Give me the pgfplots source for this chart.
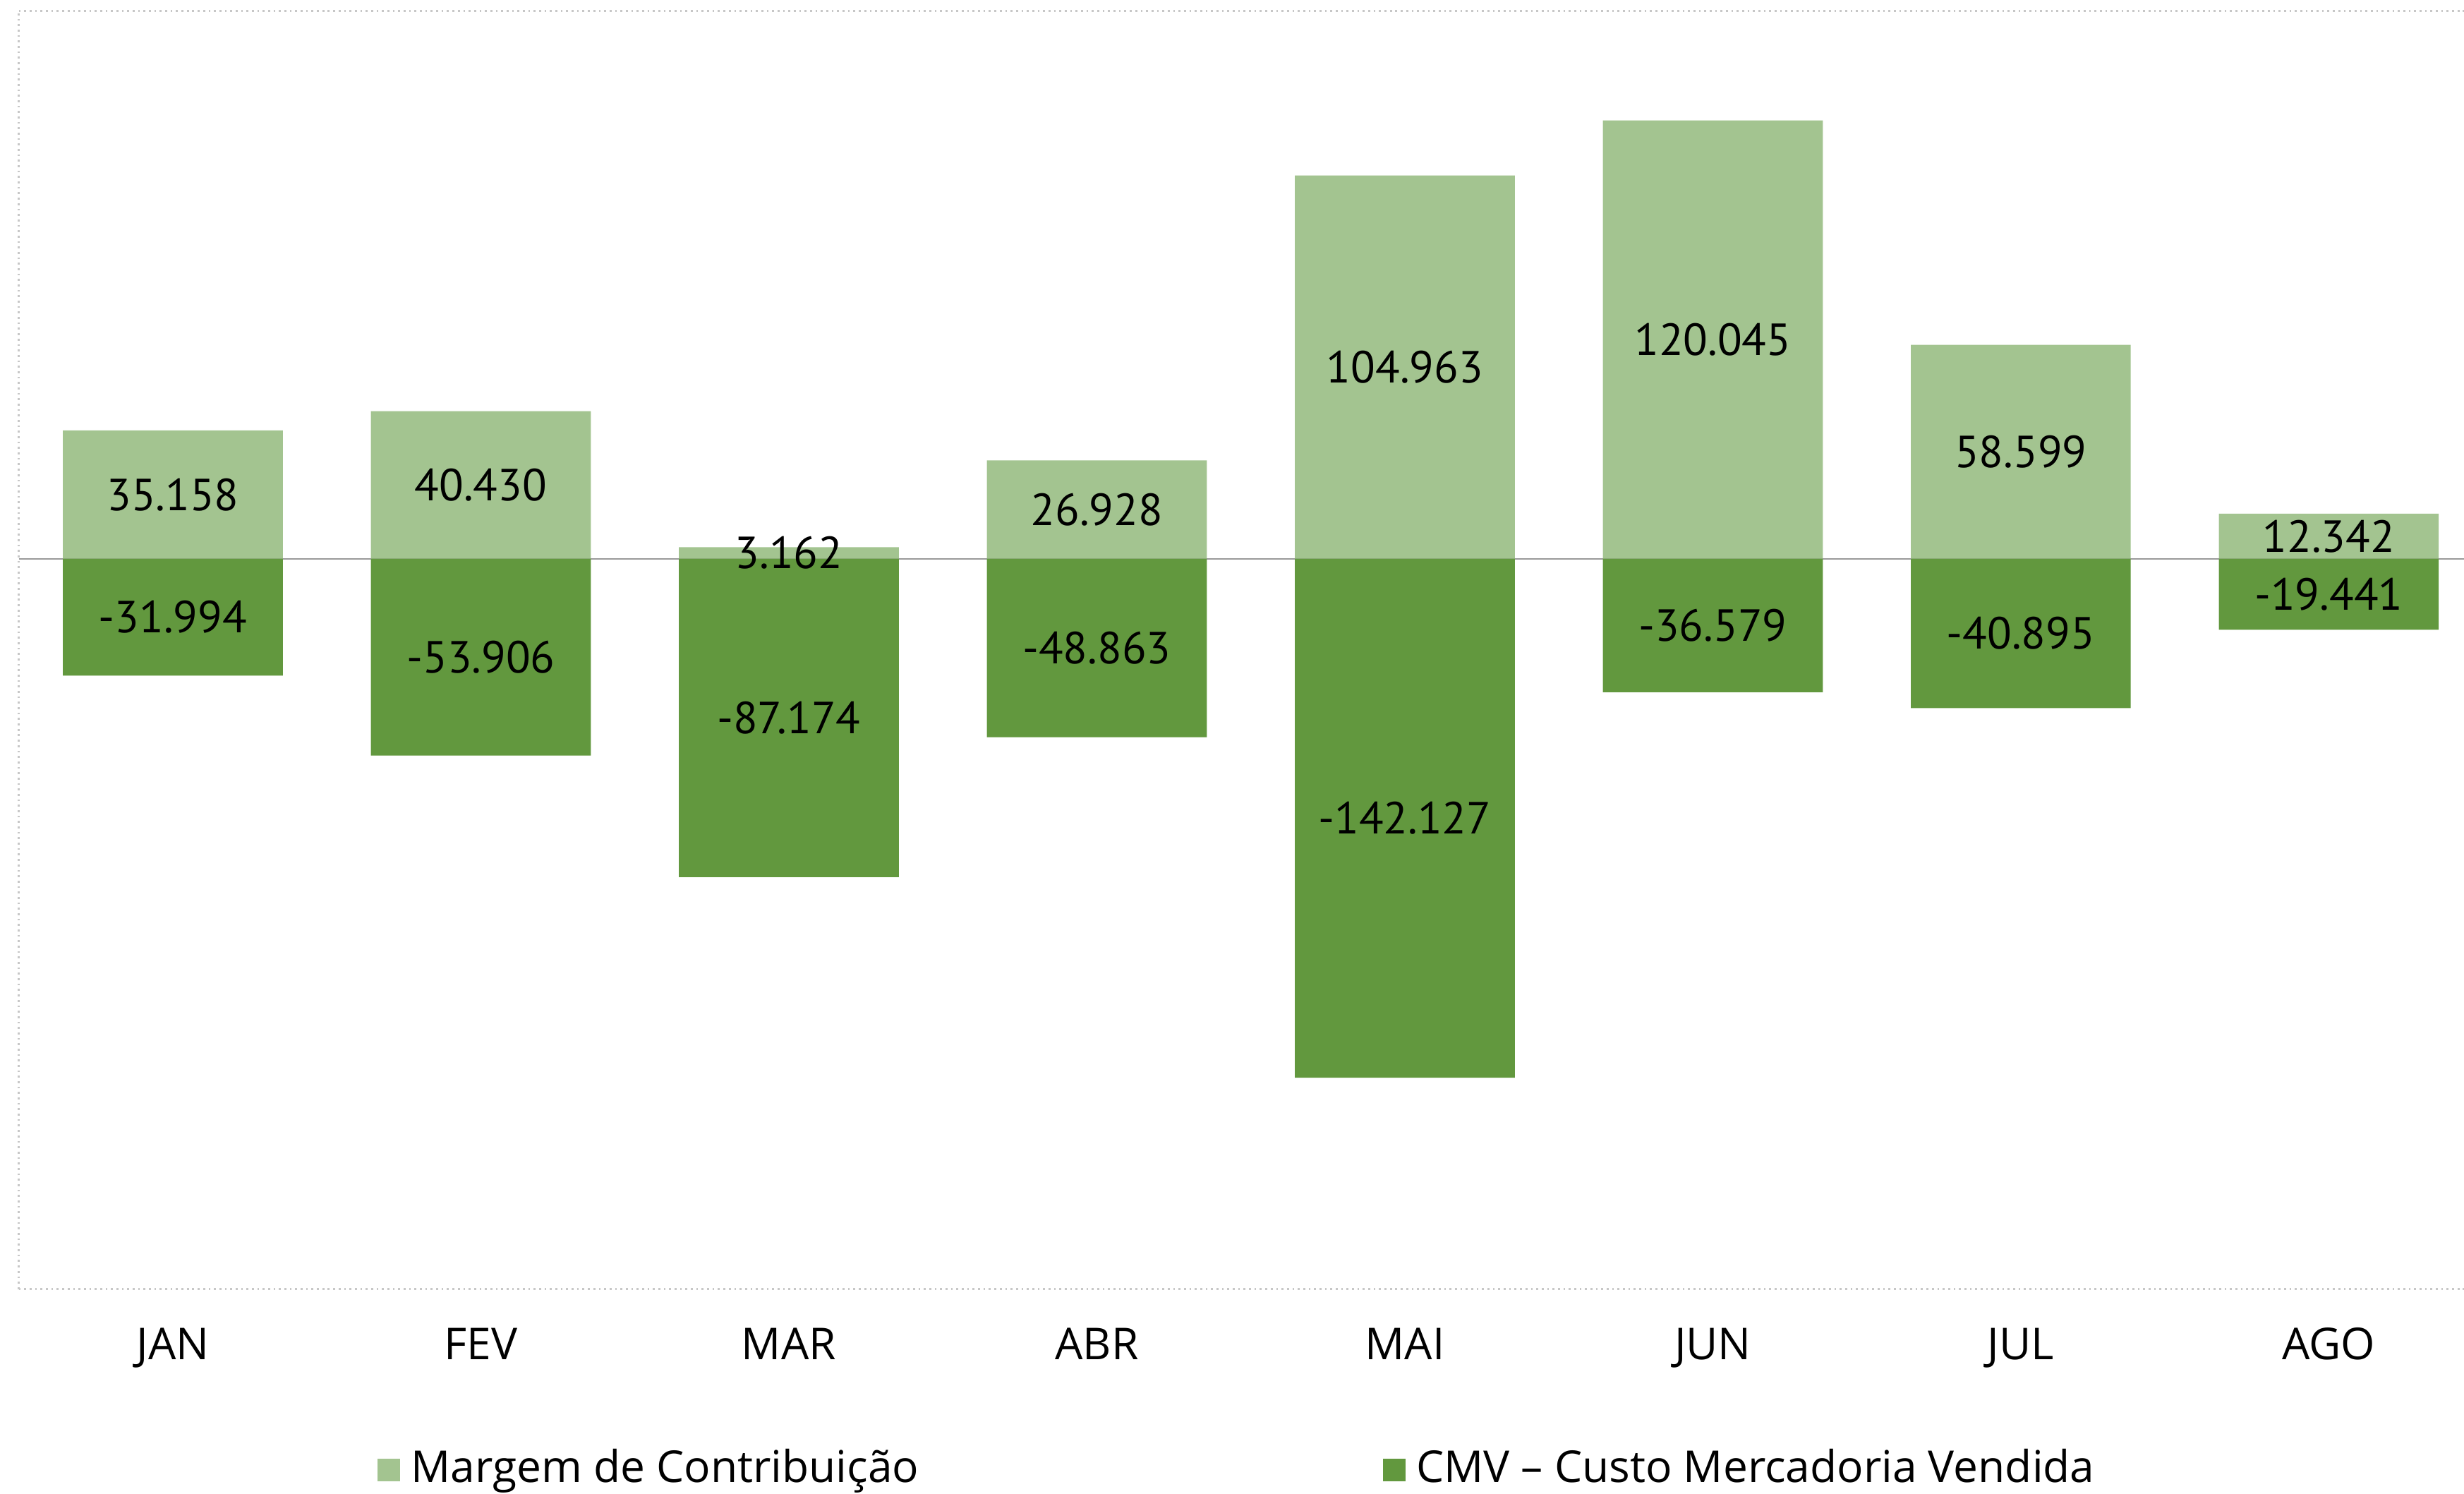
\documentclass[border=0pt]{standalone}
\usepackage{pgfplots}
\pgfplotsset{compat=1.18}
\usepackage{pgfplotstable}
\usepackage{fontspec}
\setmainfont{PT Sans}
\newfontfamily\rotulo{Open Sans}

\definecolor{margem}{HTML}{A3C490}
\definecolor{cmv}{HTML}{62983E}

% valores em milhares
\pgfplotstableread{
x mes margem cmv
0 JAN 35.158 -31.994
1 FEV 40.430 -53.906
2 MAR 3.162 -87.174
3 ABR 26.928 -48.863
4 MAI 104.963 -142.127
5 JUN 120.045 -36.579
6 JUL 58.599 -40.895
7 AGO 12.342 -19.441
}\dados

\begin{document}
\begin{tikzpicture}
\begin{axis}[
  scale only axis,
  width=451.2pt, height=235.8pt,
  xmin=-0.5, xmax=7.439,
  ymin=-200, ymax=150,
  font=\fontsize{8.3}{10}\selectfont,
  axis y line*=left,
  axis line style={black!22, line width=0.35pt, dash pattern=on 0.35pt off 0.65pt},
  xtick={0,...,7},
  xticklabels={JAN,FEV,MAR,ABR,MAI,JUN,JUL,AGO},
  xticklabel style={anchor=base, yshift=-13.05pt, font=\rotulo\fontsize{8.1}{10}\selectfont},
  ytick=\empty,
  major tick length=0pt,
  extra y ticks={0}, extra y tick labels={},
  extra y tick style={grid=major, major grid style={black!40, line width=0.3pt, solid}},
  legend columns=2,
  legend style={draw=none, fill=none, at={(0.5,-0.1415)}, anchor=center,
    font=\rotulo\fontsize{8.1}{10}\selectfont,
    /tikz/every even column/.append style={column sep=83.6pt}},
  legend image code/.code={\fill[#1] (0pt,-2.1pt) rectangle (4.2pt,2.1pt);},
  ]
  \addplot[ybar, bar width=0.714, bar shift=0pt, fill=margem, draw=none]
    table[x=x, y=margem]{\dados};
  \addlegendentry{Margem de Contribuição}
  \addplot[ybar, bar width=0.714, bar shift=0pt, fill=cmv, draw=none]
    table[x=x, y=cmv]{\dados};
  \addlegendentry{CMV – Custo Mercadoria Vendida}

  % rótulos no meio das barras
  \addplot[draw=none, mark=none, forget plot, point meta=explicit,
    nodes near coords={\pgfmathprintnumber[fixed,fixed zerofill,precision=3,assume math mode=true]{\pgfplotspointmeta}},
    every node near coord/.append style={anchor=center, text=black}]
    table[x=x, y expr=\thisrow{margem}/2, meta=margem]{\dados};
  \addplot[draw=none, mark=none, forget plot, point meta=explicit,
    nodes near coords={\pgfmathprintnumber[fixed,fixed zerofill,precision=3,assume math mode=true]{\pgfplotspointmeta}},
    every node near coord/.append style={anchor=center, text=black}]
    table[x=x, y expr=\thisrow{cmv}/2, meta=cmv]{\dados};
\end{axis}
\pgfresetboundingbox
\path ([xshift=-3.48pt,yshift=-37.7pt]current axis.south west) rectangle ([yshift=2.03pt]current axis.north east);
\end{tikzpicture}
\end{document}
